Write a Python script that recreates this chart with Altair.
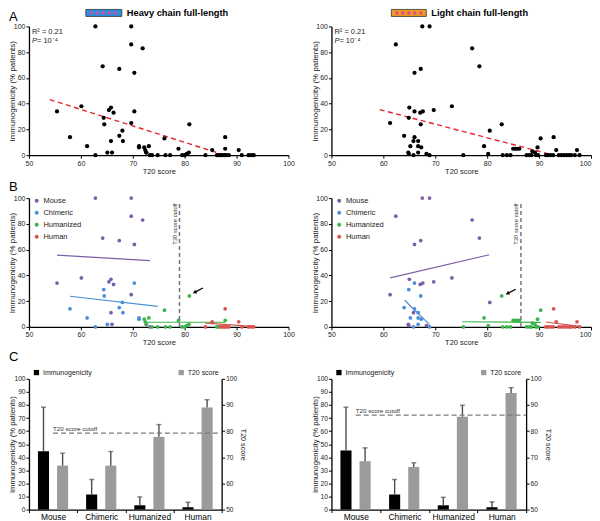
import altair as alt
import pandas as pd

FONT = "Liberation Sans"
TXT = "#222222"

GROUPS = ["Mouse", "Chimeric", "Humanized", "Human"]
GROUP_COLORS = ["#7b5ea7", "#4a8fd6", "#3cb44b", "#d9534f"]

# ---------------- Heavy chain (left column) ----------------
hc_mouse_t20 = [55.4, 60.1, 62.8, 64.2, 65.4, 65.8, 66.3, 67.4, 69.7, 69.7, 69.7, 70.3, 71.9, 65.8, 66.0, 72.6, 73.3]
hc_mouse_imm = [34, 38, 100, 69, 35, 37, 33, 67, 100, 86, 25, 64, 83, 11, 2, 2, 0]
hc_chim_t20 = [57.9, 61.2, 62.8, 64.4, 64.5, 65.1, 67.4, 68.0, 68.1, 70.3, 71.2, 71.2]
hc_chim_imm = [14, 7, 0, 29, 24, 2, 15, 19, 11, 34, 7, 6]
hc_humz_t20 = [72.2, 72.4, 72.6, 73.1, 73.7, 74.8, 76.1, 76.3, 77.2, 78.8, 79.5, 80.0, 80.4, 80.8, 80.9, 86.2, 86.6, 87.8]
hc_humz_imm = [6, 4, 2, 7, 0, 0, 13, 0, 0, 5, 0, 0, 1, 2, 24, 0, 0, 5]
hc_human_t20 = [84.0, 85.3, 86.9, 87.3, 87.7, 87.8, 88.0, 88.5, 90.4, 91.0, 92.3, 92.8, 93.3]
hc_human_imm = [0, 4, 0, 0, 0, 14, 0, 0, 4, 0, 0, 0, 0]

hc_fit_t20 = [54.0, 87.8]
hc_fit_imm = [43.2, 0.0]

hc_line_group = ["Mouse", "Mouse", "Chimeric", "Chimeric", "Humanized", "Humanized", "Human", "Human"]
hc_line_t20 = [55.4, 73.3, 57.9, 74.8, 72.2, 87.8, 84.0, 93.3]
hc_line_imm = [55.7, 51.4, 23.8, 16.0, 3.6, 3.6, 3.0, 0.4]
hc_cutoff_t20 = 79.0
hc_arrow_t20 = [83.5, 81.9]
hc_arrow_imm = [30.2, 26.8]

# ---------------- Light chain (right column) ----------------
lc_mouse_t20 = [61.3, 62.4, 64.8, 64.9, 65.0, 65.8, 66.0, 67.1, 67.2, 67.5, 67.6, 68.3, 68.9, 69.7, 73.2, 77.1, 78.5, 80.5]
lc_mouse_imm = [25, 86, 2, 1, 37, 11, 64, 33, 67, 100, 34, 1, 100, 35, 38, 83, 69, 19]
lc_chim_t20 = [64.0, 64.9, 65.2, 65.8, 66.0, 66.0, 66.7, 66.7, 66.7, 67.2, 67.3, 68.9]
lc_chim_imm = [15, 29, 7, 0, 34, 14, 11, 7, 2, 24, 6, 0]
lc_humz_t20 = [75.4, 79.4, 80.2, 82.8, 83.0, 83.8, 84.5, 85.0, 85.4, 85.8, 86.2, 87.6, 88.1, 88.5, 88.7, 89.2, 89.4, 89.7, 89.8, 90.3]
lc_humz_imm = [0, 7, 1, 24, 0, 0, 0, 5, 5, 5, 5, 0, 0, 0, 3, 2, 0, 6, 0, 13]
lc_human_t20 = [91.3, 91.7, 92.2, 92.7, 92.8, 93.3, 93.8, 94.3, 94.8, 95.3, 95.8, 96.2, 96.9, 97.3, 97.8]
lc_human_imm = [0, 0, 0, 0, 14, 4, 0, 0, 0, 0, 0, 0, 0, 4, 0]

lc_fit_t20 = [59.3, 92.8]
lc_fit_imm = [35.4, 0.0]

lc_line_group = ["Mouse", "Mouse", "Chimeric", "Chimeric", "Humanized", "Humanized", "Human", "Human"]
lc_line_t20 = [61.3, 80.4, 64.1, 68.9, 75.2, 90.3, 91.3, 97.8]
lc_line_imm = [38.0, 56.0, 20.7, 1.8, 4.0, 3.5, 3.8, 0.4]
lc_cutoff_t20 = 86.5
lc_arrow_t20 = [85.5, 83.9]
lc_arrow_imm = [29.2, 25.9]

# ---------------- Panel C ----------------
categories = ["Mouse", "Chimeric", "Humanized", "Human"]
series_names = ["Immunogenicity", "T20 score"]
hc_imm_mean = [44.6, 11.5, 3.3, 1.8]
hc_imm_upper = [78.3, 23.0, 9.7, 5.6]
hc_t20_mean = [66.8, 66.8, 77.8, 89.0]
hc_t20_upper = [71.6, 72.2, 82.5, 92.0]
hc_bar_cutoff = 79.2

lc_imm_mean = [45.2, 11.5, 3.3, 1.8]
lc_imm_upper = [78.3, 23.0, 9.4, 5.9]
lc_t20_mean = [68.5, 66.3, 85.5, 94.6]
lc_t20_upper = [73.6, 67.9, 89.9, 96.6]
lc_bar_cutoff = 86.1

# ---------------- helpers ----------------
W, H = 260, 129
CH_VIEW, C_TOP = 140, 9

XS = alt.Scale(domain=[50, 100], nice=False, zero=False)
YS = alt.Scale(domain=[0, 100], nice=False)
Y_AX = alt.Axis(values=[0, 20, 40, 60, 80, 100], title="Immunogenicity (% patients)",
                titleX=-12, titleBaseline="bottom", titleFontSize=8)
Y = alt.Y("imm:Q", scale=YS, axis=Y_AX)
CS = alt.Scale(domain=GROUPS, range=GROUP_COLORS)


def x_enc(right_col):
    kw = dict(values=[50, 60, 70, 80, 90, 100], title="T20 score", labelFlush=False, titlePadding=1)
    if right_col:
        kw["labelAlign"] = {"condition": {"test": "datum.value >= 100", "value": "right"}, "value": "center"}
    return alt.X("t20:Q", scale=XS, axis=alt.Axis(**kw))


def scatter_frame(parts):
    rows = []
    for g, xs, ys in parts:
        for a, b in zip(xs, ys):
            rows.append({"group": g, "t20": a, "imm": b})
    return pd.DataFrame(rows)


def text(label, x, y, **kw):
    return alt.Chart(pd.DataFrame({"label": [label]})).mark_text(font=FONT, **kw).encode(
        x=alt.value(x), y=alt.value(y), text="label:N")


def panel_a(df, fit_x, fit_y, letter, title, icon_fill, icon_dash, icon_x0, icon_x1, title_x, right_col):
    X = x_enc(right_col)
    pts = alt.Chart(df).mark_circle(size=18, color="black", opacity=1).encode(x=X, y=Y)
    fit = alt.Chart(pd.DataFrame({"t20": fit_x, "imm": fit_y})).mark_line(
        color="#e3262a", strokeDash=[5, 3.5], strokeWidth=1.4).encode(x=X, y=Y)
    icon = alt.Chart(pd.DataFrame({"k": [0]})).mark_rect(
        fill=icon_fill, stroke="#333333", strokeWidth=0.8).encode(
        x=alt.value(icon_x0), x2=alt.value(icon_x1), y=alt.value(-17), y2=alt.value(-10))
    dash = alt.Chart(pd.DataFrame({"k": [0]})).mark_rule(
        color=icon_dash, strokeWidth=3, strokeDash=[3, 3]).encode(
        x=alt.value(icon_x0 + 4), x2=alt.value(icon_x1 - 2), y=alt.value(-13.5))
    layers = [
        fit, pts, icon, dash,
        text(title, title_x, -13.5, align="left", baseline="middle", fontSize=9.3, fontWeight="bold", color="black"),
        text("R² = 0.21", 3, 6, align="left", baseline="middle", fontSize=7.5, color=TXT),
        text("P", 3, 14.5, align="left", baseline="middle", fontSize=7.5, fontStyle="italic", color=TXT),
        text(" = 10⁻⁴", 8, 14.5, align="left", baseline="middle", fontSize=7.5, color=TXT),
    ]
    if letter:
        layers.append(text(letter, -20, -15, align="left", baseline="top", fontSize=13, color="black"))
    return alt.layer(*layers).properties(width=W, height=H)


def panel_b(df, lx, ly, lg, cutoff, ax, ay, letter, right_col):
    X = x_enc(right_col)
    lines = alt.Chart(pd.DataFrame({"group": lg, "t20": lx, "imm": ly})).mark_line(strokeWidth=1.2).encode(
        x=X, y=Y, stroke=alt.Stroke("group:N", scale=CS, legend=None), detail="group:N")
    pts = alt.Chart(df).mark_circle(size=14, opacity=1).encode(
        x=X, y=Y,
        color=alt.Color("group:N", scale=CS, legend=alt.Legend(
            orient="none", legendX=4, legendY=-1, title=None, symbolType="circle", symbolSize=16,
            labelFontSize=7.5, labelFont=FONT, labelColor=TXT, rowPadding=3, labelOffset=3, padding=0,
            symbolStrokeWidth=0)))
    cut = alt.Chart(pd.DataFrame({"t20": [cutoff], "imm": [0], "imm2": [96]})).mark_rule(
        color="#777777", strokeDash=[4, 3], strokeWidth=1.5).encode(x=X, y=Y, y2="imm2:Q")
    cut_lbl = alt.Chart(pd.DataFrame({"t20": [cutoff], "imm": [96], "label": ["T20 score cutoff"]})).mark_text(
        font=FONT, fontSize=5.8, angle=270, align="right", baseline="bottom", dy=-2, color="#333333").encode(
        x=X, y=Y, text="label:N")
    arrow = alt.Chart(pd.DataFrame({"t20": ax, "imm": ay})).mark_line(color="black", strokeWidth=1.3).encode(x=X, y=Y)
    head = alt.Chart(pd.DataFrame({"t20": [ax[-1]], "imm": [ay[-1]]})).mark_point(
        shape="triangle-up", filled=True, color="black", size=18, angle=242, opacity=1).encode(x=X, y=Y)
    layers = [lines, pts, cut, cut_lbl, arrow, head]
    if letter:
        layers.append(text(letter, -20, -17, align="left", baseline="top", fontSize=13, color="black"))
    return alt.layer(*layers).properties(width=W, height=H)


def panel_c(imm_mean, imm_up, t20_mean, t20_up, cutoff, letter, width):
    cx = alt.X("cat:N", sort=categories, scale=alt.Scale(paddingInner=0, paddingOuter=0),
               axis=alt.Axis(title=None, labelAngle=0, tickBand="extent", labelFontSize=8.4,
                             labelColor="black", labelPadding=0))
    xo = alt.XOffset("series:N", scale=alt.Scale(domain=series_names, paddingInner=0.42, paddingOuter=0.47))
    color = alt.Color("series:N", scale=alt.Scale(domain=series_names, range=["#000000", "#9b9b9b"]),
                      legend=alt.Legend(orient="none", legendX=4, legendY=-1, direction="horizontal",
                                        title=None, symbolType="square", symbolSize=28, labelFontSize=7,
                                        labelFont=FONT, labelColor=TXT, columnPadding=85, padding=0,
                                        symbolStrokeWidth=0, labelOffset=3))
    sl = alt.Scale(domain=[0, 100], nice=False, range=[CH_VIEW, C_TOP])
    sr = alt.Scale(domain=[50, 100], nice=False, zero=False, range=[CH_VIEW, C_TOP])
    axl = alt.Axis(values=list(range(0, 101, 10)), title="Immunogenicity (% patients)",
                   labelFontSize=6.6, titleFontSize=7.7, titleX=-12, titleBaseline="bottom")
    axr = alt.Axis(values=list(range(50, 101, 10)), title="T20 score", orient="right",
                   labelFontSize=6.6, titleFontSize=7.2, titlePadding=2)
    yl = alt.Y("val:Q", scale=sl, axis=axl)
    yl_up = alt.Y("up:Q", scale=sl, axis=axl)
    yr = alt.Y("val:Q", scale=sr, axis=axr)
    yr_up = alt.Y("up:Q", scale=sr, axis=axr)
    di = pd.DataFrame({"cat": categories, "val": imm_mean, "up": imm_up, "series": series_names[0]})
    dt = pd.DataFrame({"cat": categories, "val": t20_mean, "up": t20_up, "series": series_names[1]})
    err_col = "#4d4d4d"
    li = alt.layer(
        alt.Chart(di).mark_bar().encode(x=cx, xOffset=xo, y=yl, color=color),
        alt.Chart(di).mark_rule(color=err_col, strokeWidth=1.4).encode(x=cx, xOffset=xo, y=yl, y2="up:Q"),
        alt.Chart(di).mark_tick(color=err_col, thickness=1.4, size=5).encode(x=cx, xOffset=xo, y=yl_up),
    )
    lt = alt.layer(
        alt.Chart(dt).mark_bar().encode(x=cx, xOffset=xo, y=yr, y2=alt.datum(50), color=color),
        alt.Chart(dt).mark_rule(color=err_col, strokeWidth=1.4).encode(x=cx, xOffset=xo, y=yr, y2="up:Q"),
        alt.Chart(dt).mark_tick(color=err_col, thickness=1.4, size=5).encode(x=cx, xOffset=xo, y=yr_up),
        alt.Chart(pd.DataFrame({"cat": ["Mouse"], "val": [cutoff]})).mark_rule(
            color="#7a7a7a", strokeDash=[5, 3], strokeWidth=1.3).encode(x=cx, x2=alt.value(width), y=yr),
        alt.Chart(pd.DataFrame({"cat": ["Mouse"], "val": [cutoff], "label": ["T20 score cutoff"]})).mark_text(
            font=FONT, fontSize=6.2, align="left", baseline="bottom", dy=-1, color="#333333").encode(
            x=cx, y=yr, text="label:N"),
    )
    layers = [li, lt]
    if letter:
        layers.append(text(letter, -20, -19, align="left", baseline="top", fontSize=13, color="black"))
    return alt.layer(*layers).resolve_scale(y="independent").properties(width=width, height=CH_VIEW)


hc_df = scatter_frame([("Mouse", hc_mouse_t20, hc_mouse_imm), ("Chimeric", hc_chim_t20, hc_chim_imm),
                       ("Humanized", hc_humz_t20, hc_humz_imm), ("Human", hc_human_t20, hc_human_imm)])
lc_df = scatter_frame([("Mouse", lc_mouse_t20, lc_mouse_imm), ("Chimeric", lc_chim_t20, lc_chim_imm),
                       ("Humanized", lc_humz_t20, lc_humz_imm), ("Human", lc_human_t20, lc_human_imm)])

a_left = panel_a(hc_df, hc_fit_t20, hc_fit_imm, "A", "Heavy chain full-length", "#2a8fe0", "#d94b9b", 57, 93, 98, False)
a_right = panel_a(lc_df, lc_fit_t20, lc_fit_imm, "", "Light chain full-length", "#f39a1e", "#d94b9b", 60, 95, 100, True)
b_left = panel_b(hc_df, hc_line_t20, hc_line_imm, hc_line_group, hc_cutoff_t20, hc_arrow_t20, hc_arrow_imm, "B", False)
b_right = panel_b(lc_df, lc_line_t20, lc_line_imm, lc_line_group, lc_cutoff_t20, lc_arrow_t20, lc_arrow_imm, "", True)
c_left = panel_c(hc_imm_mean, hc_imm_upper, hc_t20_mean, hc_t20_upper, hc_bar_cutoff, "C", 193)
c_right = panel_c(lc_imm_mean, lc_imm_upper, lc_t20_mean, lc_t20_upper, lc_bar_cutoff, "", 195)

chart = alt.concat(a_left, a_right, b_left, b_right, c_left, c_right,
                   columns=2, spacing=43, bounds="flush", align="each")
chart = chart.resolve_scale(color="independent").properties(padding=0)
chart = chart.configure_view(stroke=None).configure_axis(
    domainColor="black", domainWidth=1.3, tickColor="black", tickWidth=1, tickSize=3,
    labelFont=FONT, labelFontSize=7, labelColor=TXT, labelPadding=1,
    titleFont=FONT, titleFontSize=7.5, titleFontWeight="normal", titleColor=TXT, grid=False)

chart.save("out.html", embed_options={"renderer": "svg", "actions": False})
